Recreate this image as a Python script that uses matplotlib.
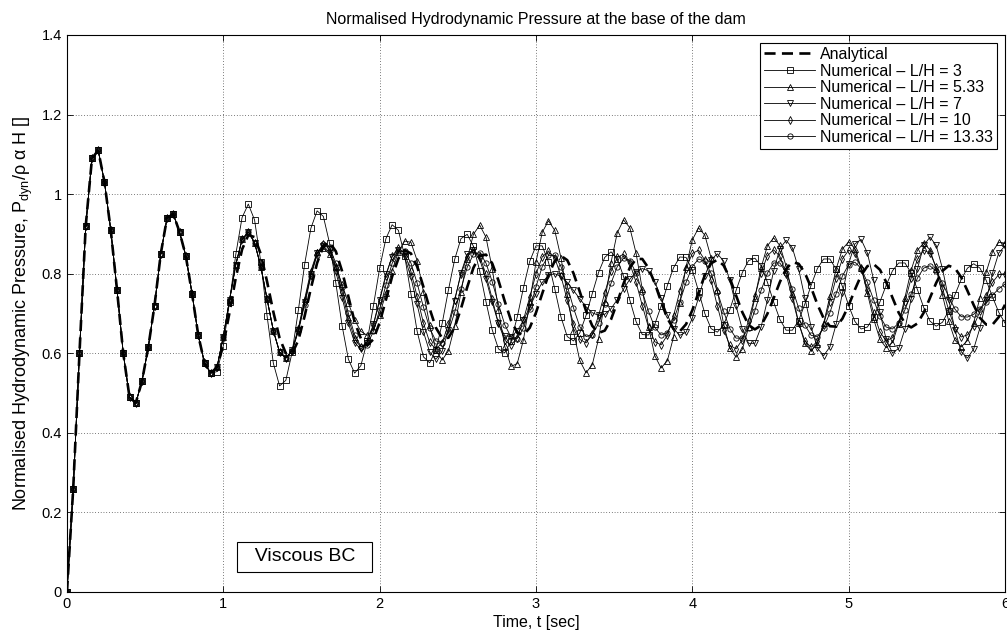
import numpy as np
import matplotlib
matplotlib.use("Agg")
import matplotlib.pyplot as plt

plt.rcParams["font.family"] = ["Liberation Sans", "DejaVu Sans"]
plt.rcParams["mathtext.fontset"] = "custom"
plt.rcParams["mathtext.rm"] = "Liberation Sans"
plt.rcParams["mathtext.it"] = "Liberation Sans:italic"

# sampling of the numerical output (s)
dt = 0.04
n_steps = 151

# common start, t = 0.00 .. 0.96 (all curves coincide)
early = [0.0, 0.26, 0.60, 0.92, 1.09, 1.11, 1.03, 0.91, 0.76, 0.60,
         0.49, 0.475, 0.53, 0.615, 0.72, 0.85, 0.94, 0.95, 0.905, 0.845,
         0.75, 0.645, 0.575, 0.55, 0.565]

# numerical curves L/H >= 5.33 still together, t = 1.00 .. 1.40
cluster = [0.642, 0.734, 0.823, 0.886, 0.905, 0.878, 0.818, 0.736, 0.657, 0.603, 0.588]

# analytical, t = 1.00 .. 6.00
analytical = early + [
    0.621, 0.703, 0.790, 0.861, 0.897, 0.892, 0.849, 0.780, 0.704, 0.638,
    0.600, 0.599, 0.633, 0.693, 0.763, 0.827, 0.869, 0.879, 0.856, 0.806,
    0.743, 0.679, 0.637, 0.620, 0.635, 0.677, 0.734, 0.793, 0.838, 0.859,
    0.851, 0.818, 0.767, 0.712, 0.664, 0.638, 0.639, 0.665, 0.712, 0.766,
    0.815, 0.845, 0.848, 0.826, 0.783, 0.731, 0.683, 0.652, 0.646, 0.664,
    0.702, 0.750, 0.797, 0.832, 0.845, 0.834, 0.801, 0.755, 0.707, 0.669,
    0.651, 0.657, 0.685, 0.728, 0.775, 0.815, 0.837, 0.837, 0.814, 0.776,
    0.730, 0.688, 0.661, 0.655, 0.673, 0.708, 0.753, 0.796, 0.826, 0.835,
    0.821, 0.789, 0.745, 0.703, 0.671, 0.660, 0.670, 0.699, 0.738, 0.779,
    0.812, 0.829, 0.825, 0.802, 0.765, 0.723, 0.688, 0.668, 0.667, 0.687,
    0.720, 0.760, 0.796, 0.819, 0.824, 0.810, 0.779, 0.740, 0.702, 0.675,
    0.665, 0.675, 0.702, 0.739, 0.777, 0.807, 0.820, 0.814, 0.791, 0.757,
    0.721, 0.689, 0.672, 0.672, 0.691, 0.722]

# L/H = 3, t = 0.96 .. 6.00
lh_3 = early[:24] + [
    0.554,
    0.619, 0.730, 0.849, 0.941, 0.975, 0.935, 0.829, 0.694, 0.575, 0.518,
    0.532, 0.602, 0.708, 0.823, 0.914, 0.958, 0.944, 0.876, 0.776, 0.669,
    0.585, 0.550, 0.569, 0.630, 0.719, 0.814, 0.888, 0.923, 0.909, 0.845,
    0.750, 0.655, 0.591, 0.576, 0.608, 0.675, 0.759, 0.836, 0.888, 0.899,
    0.869, 0.807, 0.730, 0.659, 0.611, 0.601, 0.630, 0.691, 0.765, 0.831,
    0.870, 0.870, 0.829, 0.762, 0.691, 0.642, 0.631, 0.651, 0.695, 0.750,
    0.803, 0.841, 0.855, 0.838, 0.793, 0.734, 0.680, 0.647, 0.646, 0.673,
    0.718, 0.770, 0.815, 0.842, 0.841, 0.809, 0.756, 0.700, 0.662, 0.653,
    0.671, 0.710, 0.758, 0.803, 0.833, 0.839, 0.820, 0.779, 0.729, 0.685,
    0.658, 0.658, 0.682, 0.724, 0.771, 0.813, 0.837, 0.837, 0.811, 0.768,
    0.720, 0.680, 0.661, 0.666, 0.691, 0.729, 0.771, 0.807, 0.827, 0.827,
    0.802, 0.760, 0.715, 0.681, 0.668, 0.678, 0.707, 0.747, 0.786, 0.814,
    0.825, 0.814, 0.783, 0.742, 0.703, 0.676]

# L/H = 5.33, t = 1.44 .. 6.00
lh_533 = early + cluster + [
    0.608, 0.663, 0.736, 0.807, 0.854, 0.864, 0.849, 0.817, 0.773, 0.726,
    0.684, 0.655, 0.645, 0.659, 0.697, 0.751, 0.808, 0.855, 0.882, 0.879,
    0.833, 0.755, 0.671, 0.607, 0.583, 0.606, 0.668, 0.753, 0.837, 0.899,
    0.922, 0.892, 0.813, 0.710, 0.618, 0.567, 0.574, 0.634, 0.729, 0.829,
    0.904, 0.933, 0.909, 0.840, 0.748, 0.655, 0.582, 0.551, 0.571, 0.636,
    0.730, 0.828, 0.903, 0.935, 0.916, 0.852, 0.761, 0.667, 0.594, 0.563,
    0.581, 0.641, 0.727, 0.817, 0.885, 0.915, 0.897, 0.840, 0.758, 0.674,
    0.613, 0.590, 0.610, 0.665, 0.740, 0.815, 0.870, 0.890, 0.871, 0.819,
    0.748, 0.677, 0.625, 0.606, 0.624, 0.675, 0.743, 0.812, 0.862, 0.880,
    0.863, 0.815, 0.751, 0.686, 0.635, 0.614, 0.627, 0.674, 0.740, 0.809,
    0.859, 0.877, 0.860, 0.812, 0.747, 0.681, 0.633, 0.616, 0.632, 0.677,
    0.740, 0.804, 0.855, 0.879, 0.877]

# L/H = 7
lh_7 = early + cluster + [
    0.607, 0.659, 0.729, 0.800, 0.851, 0.870, 0.853, 0.805, 0.740, 0.675,
    0.627, 0.610, 0.627, 0.673, 0.735, 0.798, 0.843, 0.860, 0.842, 0.791,
    0.723, 0.654, 0.603, 0.585, 0.605, 0.659, 0.732, 0.802, 0.849, 0.859,
    0.836, 0.787, 0.728, 0.675, 0.644, 0.642, 0.656, 0.683, 0.716, 0.750,
    0.778, 0.796, 0.800, 0.793, 0.778, 0.758, 0.737, 0.717, 0.702, 0.695,
    0.698, 0.712, 0.735, 0.761, 0.786, 0.804, 0.813, 0.807, 0.780, 0.740,
    0.697, 0.662, 0.645, 0.653, 0.688, 0.740, 0.794, 0.835, 0.850, 0.832,
    0.783, 0.719, 0.660, 0.625, 0.625, 0.666, 0.733, 0.807, 0.863, 0.884,
    0.865, 0.812, 0.739, 0.666, 0.613, 0.594, 0.616, 0.673, 0.751, 0.825,
    0.875, 0.886, 0.852, 0.784, 0.703, 0.635, 0.601, 0.612, 0.661, 0.736,
    0.812, 0.871, 0.892, 0.871, 0.813, 0.735, 0.658, 0.604, 0.588, 0.611,
    0.664, 0.733, 0.801, 0.852, 0.870]

# L/H = 10
lh_10 = early + cluster + [
    0.606, 0.658, 0.727, 0.797, 0.852, 0.875, 0.861, 0.817, 0.754, 0.687,
    0.637, 0.615, 0.628, 0.670, 0.732, 0.795, 0.844, 0.865, 0.851, 0.806,
    0.742, 0.676, 0.628, 0.610, 0.627, 0.673, 0.735, 0.798, 0.843, 0.860,
    0.844, 0.798, 0.736, 0.675, 0.633, 0.620, 0.639, 0.684, 0.742, 0.799,
    0.842, 0.857, 0.840, 0.794, 0.733, 0.674, 0.635, 0.626, 0.648, 0.694,
    0.752, 0.806, 0.841, 0.849, 0.826, 0.779, 0.720, 0.665, 0.629, 0.621,
    0.645, 0.694, 0.756, 0.813, 0.851, 0.859, 0.834, 0.783, 0.719, 0.659,
    0.620, 0.611, 0.634, 0.682, 0.743, 0.802, 0.845, 0.860, 0.844, 0.799,
    0.738, 0.676, 0.631, 0.615, 0.630, 0.672, 0.730, 0.790, 0.837, 0.859,
    0.851, 0.815, 0.760, 0.701, 0.654, 0.631, 0.639, 0.675, 0.730, 0.789,
    0.836, 0.859, 0.852, 0.817, 0.764, 0.708, 0.663, 0.641, 0.646, 0.669,
    0.705, 0.745, 0.778, 0.798, 0.800]

# L/H = 13.33
lh_1333 = early + cluster + [
    0.606, 0.655, 0.722, 0.793, 0.848, 0.874, 0.866, 0.826, 0.766, 0.700,
    0.646, 0.617, 0.621, 0.655, 0.710, 0.772, 0.826, 0.856, 0.856, 0.827,
    0.776, 0.716, 0.663, 0.631, 0.627, 0.654, 0.703, 0.762, 0.816, 0.849,
    0.853, 0.827, 0.780, 0.724, 0.672, 0.641, 0.637, 0.663, 0.711, 0.767,
    0.818, 0.846, 0.846, 0.818, 0.769, 0.714, 0.667, 0.642, 0.646, 0.675,
    0.724, 0.776, 0.818, 0.839, 0.833, 0.802, 0.755, 0.705, 0.665, 0.646,
    0.652, 0.683, 0.729, 0.778, 0.818, 0.837, 0.831, 0.801, 0.755, 0.705,
    0.662, 0.638, 0.638, 0.664, 0.707, 0.758, 0.801, 0.827, 0.827, 0.803,
    0.762, 0.714, 0.671, 0.645, 0.642, 0.663, 0.702, 0.750, 0.794, 0.823,
    0.829, 0.813, 0.778, 0.734, 0.693, 0.666, 0.661, 0.676, 0.709, 0.750,
    0.789, 0.814, 0.820, 0.806, 0.777, 0.742, 0.711, 0.692, 0.691, 0.698,
    0.712, 0.728, 0.746, 0.762, 0.774]

time = np.round(np.arange(n_steps) * dt, 2)

numerical = [
    ("Numerical \u2013 L/H = 3", lh_3, "s"),
    ("Numerical \u2013 L/H = 5.33", lh_533, "^"),
    ("Numerical \u2013 L/H = 7", lh_7, "v"),
    ("Numerical \u2013 L/H = 10", lh_10, "d"),
    ("Numerical \u2013 L/H = 13.33", lh_1333, "o"),
]

fig = plt.figure(figsize=(10.07, 6.36), dpi=100)
ax = fig.add_axes([0.0665, 0.0692, 0.9315, 0.8758])

ax.plot(time, analytical, color="black", lw=1.9, dashes=(4.2, 2.4), label="Analytical")
for label, vals, mk in numerical:
    ax.plot(time, vals, color="black", lw=0.6, marker=mk, ms=3.8, mfc="none",
            mew=0.6, label=label)

ax.set_xlim(0, 6)
ax.set_ylim(0, 1.4)
ax.set_xticks(range(7))
ax.set_yticks(np.arange(0, 1.41, 0.2))
ax.set_yticklabels(["0", "0.2", "0.4", "0.6", "0.8", "1", "1.2", "1.4"])
ax.grid(True, color="black", lw=0.5, dashes=(1, 3))
ax.tick_params(direction="in", top=True, right=True, length=4, width=0.6, labelsize=10.5)
for sp in ax.spines.values():
    sp.set_linewidth(0.8)

ax.set_title("Normalised Hydrodynamic Pressure at the base of the dam", fontsize=11.5, pad=8)
ax.set_xlabel("Time, t [sec]", fontsize=11.5, labelpad=3)
ax.set_ylabel("Normalised Hydrodynamic Pressure, P$_{\\mathrm{dyn}}$/\u03c1 \u03b1 H []",
              fontsize=13, labelpad=5)

leg = ax.legend(loc="upper right", fontsize=11.5, handlelength=3.2, labelspacing=0.1,
                borderaxespad=0.5, fancybox=False, framealpha=1, edgecolor="black",
                borderpad=0.25, handletextpad=0.3)
leg.get_frame().set_linewidth(0.8)

ax.text(1.52, 0.088, "  Viscous BC  ", ha="center", va="center", fontsize=14,
        bbox=dict(boxstyle="square,pad=0.35", fc="white", ec="black", lw=0.8))

fig.savefig("out.png", dpi=100)
